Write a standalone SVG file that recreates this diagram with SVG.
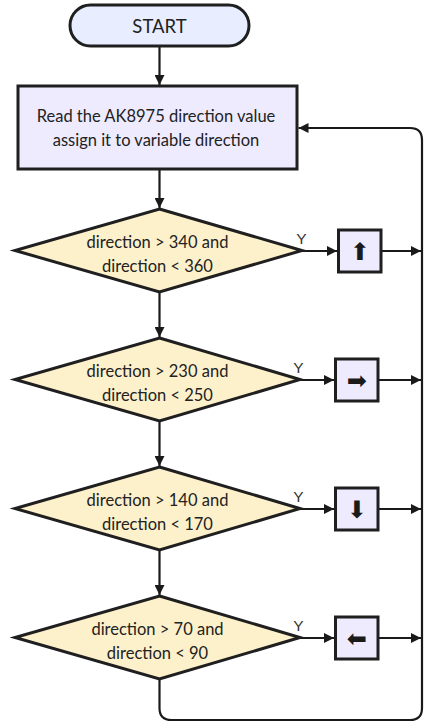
<svg xmlns="http://www.w3.org/2000/svg" width="433" height="728" viewBox="0 0 433 728">
<defs>
<marker id="ah" viewBox="0 0 10 10" refX="10" refY="5" markerWidth="10" markerHeight="10" markerUnits="userSpaceOnUse" orient="auto">
<path d="M0,0 L10,5 L0,10 z" fill="#1a1a1a"/>
</marker>
<style>
.node{stroke:#1f1f1f;stroke-width:3}
.term{fill:#e8eeff}
.proc{fill:#eeebff}
.dec{fill:#fdf1cb}
.t{font-family:Lato,"Noto Sans",sans-serif;font-size:16.5px;fill:#222;text-anchor:middle}
.y{font-family:"Liberation Sans",Arial,sans-serif;font-size:15.5px;fill:#333;text-anchor:middle}
.g{font-family:"DejaVu Sans",sans-serif;font-size:24px;fill:#1a1a1a;text-anchor:middle}
.c{fill:none;stroke:#1a1a1a;stroke-width:2.2}
</style>
</defs>
<rect width="433" height="728" fill="#ffffff"/>
<g id="connectors">
<path class="c" d="M159.5,46 L159.5,85" marker-end="url(#ah)"/>
<path class="c" d="M159.5,169 L159.5,208" marker-end="url(#ah)"/>
<path class="c" d="M159.5,292 L159.5,337" marker-end="url(#ah)"/>
<path class="c" d="M159.5,421 L159.5,466" marker-end="url(#ah)"/>
<path class="c" d="M159.5,550 L159.5,595" marker-end="url(#ah)"/>
<path class="c" d="M302,251 L337,251" marker-end="url(#ah)"/>
<path class="c" d="M381,251 L421,251" marker-end="url(#ah)"/>
<path class="c" d="M300,380 L334,380" marker-end="url(#ah)"/>
<path class="c" d="M378,380 L421,380" marker-end="url(#ah)"/>
<path class="c" d="M300,509 L334,509" marker-end="url(#ah)"/>
<path class="c" d="M378,509 L421,509" marker-end="url(#ah)"/>
<path class="c" d="M300,638 L334,638" marker-end="url(#ah)"/>
<path class="c" d="M378,638 L421,638" marker-end="url(#ah)"/>
<path class="c" d="M159.5,679 L159.5,708 Q159.5,720 171.5,720 L410,720 Q422,720 422,708 L422,140 Q422,128 410,128 L298.5,128" marker-end="url(#ah)"/>
<text class="y" x="301.5" y="244">Y</text>
<text class="y" x="298.5" y="373">Y</text>
<text class="y" x="298.5" y="502">Y</text>
<text class="y" x="298.5" y="631">Y</text>
</g>
<g id="start">
<rect class="node term" x="70" y="5" width="179" height="41" rx="20.5"/>
<text class="t" x="159.5" y="32.5" style="font-size:18.5px">START</text>
</g>
<g id="read">
<rect class="node proc" x="18" y="86" width="279" height="83"/>
<text class="t" x="156" y="122">Read the AK8975 direction value</text>
<text class="t" x="156" y="146">assign it to variable direction</text>
</g>
<g id="d1">
<polygon class="node dec" points="159.5,209 302,250.5 159.5,292 15,250.5"/>
<text class="t" x="157.5" y="248">direction &gt; 340 and</text>
<text class="t" x="157.5" y="272">direction &lt; 360</text>
</g>
<g id="d2">
<polygon class="node dec" points="159.5,338 300,379.5 159.5,421 15,379.5"/>
<text class="t" x="157.5" y="377">direction &gt; 230 and</text>
<text class="t" x="157.5" y="401">direction &lt; 250</text>
</g>
<g id="d3">
<polygon class="node dec" points="159.5,467 300,508.5 159.5,550 15,508.5"/>
<text class="t" x="157.5" y="506">direction &gt; 140 and</text>
<text class="t" x="157.5" y="530">direction &lt; 170</text>
</g>
<g id="d4">
<polygon class="node dec" points="159.5,596 300,637.5 159.5,679 15,637.5"/>
<text class="t" x="157.5" y="635">direction &gt; 70 and</text>
<text class="t" x="157.5" y="659">direction &lt; 90</text>
</g>
<g id="up">
<rect class="node proc" x="338.5" y="230" width="42.5" height="42"/>
<text class="g" x="359.75" y="259.5">⬆</text>
</g>
<g id="right">
<rect class="node proc" x="335.5" y="359" width="42.5" height="42"/>
<text class="g" x="356.75" y="388.5">➡</text>
</g>
<g id="down">
<rect class="node proc" x="335.5" y="488" width="42.5" height="42"/>
<text class="g" x="356.75" y="517.5">⬇</text>
</g>
<g id="left">
<rect class="node proc" x="335.5" y="617" width="42.5" height="42"/>
<text class="g" x="356.75" y="646.5">⬅</text>
</g>
</svg>
